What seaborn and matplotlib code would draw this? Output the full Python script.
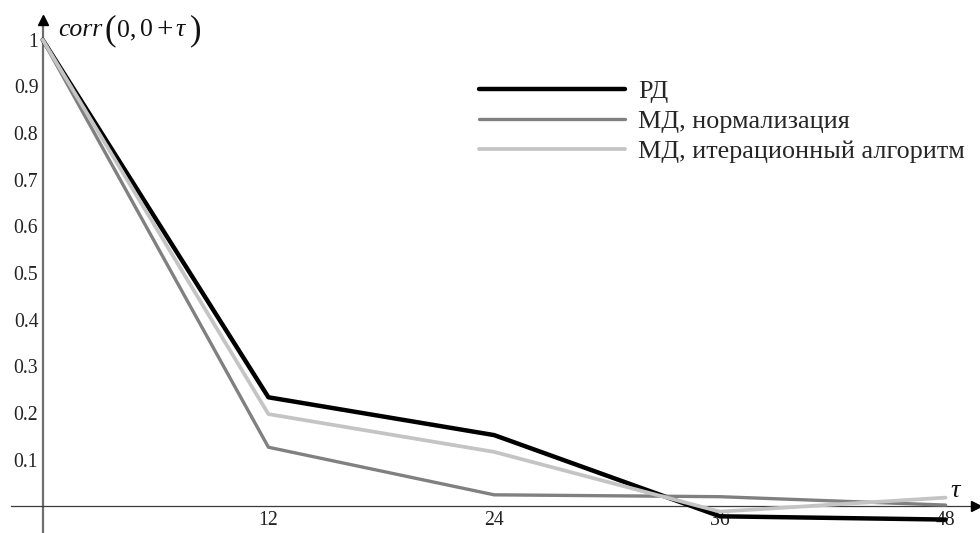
import matplotlib
matplotlib.use("Agg")
import matplotlib.pyplot as plt
import seaborn as sns
import pandas as pd

# lag values and correlation estimates
tau = [0, 12, 24, 36, 48]
corr_rd = [1.0, 0.234, 0.153, -0.021, -0.028]
corr_norm = [1.0, 0.127, 0.025, 0.021, 0.003]
corr_iter = [1.0, 0.198, 0.117, -0.011, 0.019]

series_names = ["РД", "МД, нормализация", "МД, итерационный алгоритм"]
series_colors = ["#000000", "#808080", "#c4c4c4"]
series_widths = [3.2, 2.4, 2.7]

x_ticks = [12, 24, 36, 48]
y_ticks = [0.1, 0.2, 0.3, 0.4, 0.5, 0.6, 0.7, 0.8, 0.9, 1.0]
y_tick_labels = ["0.1", "0.2", "0.3", "0.4", "0.5", "0.6", "0.7", "0.8", "0.9", "1"]

sns.set_style("white")
plt.rcParams["font.family"] = ["Liberation Serif", "DejaVu Serif"]

df = pd.DataFrame({
    "tau": tau * 3,
    "corr": corr_rd + corr_norm + corr_iter,
    "series": [series_names[0]] * len(tau) + [series_names[1]] * len(tau) + [series_names[2]] * len(tau),
})

W, H = 980, 533
fig = plt.figure(figsize=(W / 100, H / 100), dpi=100)
ax = fig.add_axes([0, 0, 1, 1])

for name, color, lw in zip(series_names, series_colors, series_widths):
    sns.lineplot(data=df[df["series"] == name], x="tau", y="corr", ax=ax,
                 color=color, linewidth=lw, label=name, zorder=3)

ax.set_xlim(-2.27, 49.83)
ax.set_ylim(-0.0568, 1.0853)

# axes through the origin
for side in ["top", "right"]:
    ax.spines[side].set_visible(False)
ax.spines["left"].set_position(("data", 0))
ax.spines["bottom"].set_position(("data", 0))
ax.spines["left"].set_color("#6e6e6e")
ax.spines["left"].set_linewidth(1.6)
ax.spines["left"].set_bounds(-0.0568, 1.045)
ax.spines["bottom"].set_color("#3a3a3a")
ax.spines["bottom"].set_linewidth(0.9)
ax.spines["bottom"].set_bounds(-1.7, 49.3)

ax.plot([0], [1.043], marker="^", color="black", markersize=7, clip_on=False, zorder=4)
ax.plot([49.6], [0], marker=">", color="black", markersize=7, clip_on=False, zorder=4)

ax.set_xticks(x_ticks)
ax.set_xticklabels([str(t) for t in x_ticks])
ax.set_yticks(y_ticks)
ax.set_yticklabels(y_tick_labels)
ax.tick_params(axis="both", direction="inout", length=4, width=0.6, color="#555555",
               labelsize=14.2, labelcolor="#222222", pad=1.2)
ax.set_xlabel("")
ax.set_ylabel("")


def fig_text(x_px, y_px, s, size, **kw):
    fig.text(x_px / W, 1 - y_px / H, s, fontsize=size, ha="left", va="baseline",
             color="#111111", **kw)


# y-axis caption: corr(0, 0 + tau) with tall parentheses
fig_text(58, 36, "corr", 18.5, style="italic")
fig_text(105, 39, "(", 25)
fig_text(117, 36, "0,", 18.5)
fig_text(140, 36, "0", 18.5)
fig_text(156, 37, "+", 21)
fig_text(175, 36, "τ", 18.5, style="italic")
fig_text(190, 39, ")", 25)

# x-axis caption
fig_text(950, 497, "τ", 19, style="italic")

leg = ax.legend(loc="upper left", bbox_to_anchor=(479 / W, 1 - 80 / H), bbox_transform=fig.transFigure,
                frameon=False, fontsize=18.8, handlelength=5.6, handletextpad=0.5,
                labelspacing=0.25, borderpad=0, borderaxespad=0)

fig.savefig("out.png", dpi=100)
